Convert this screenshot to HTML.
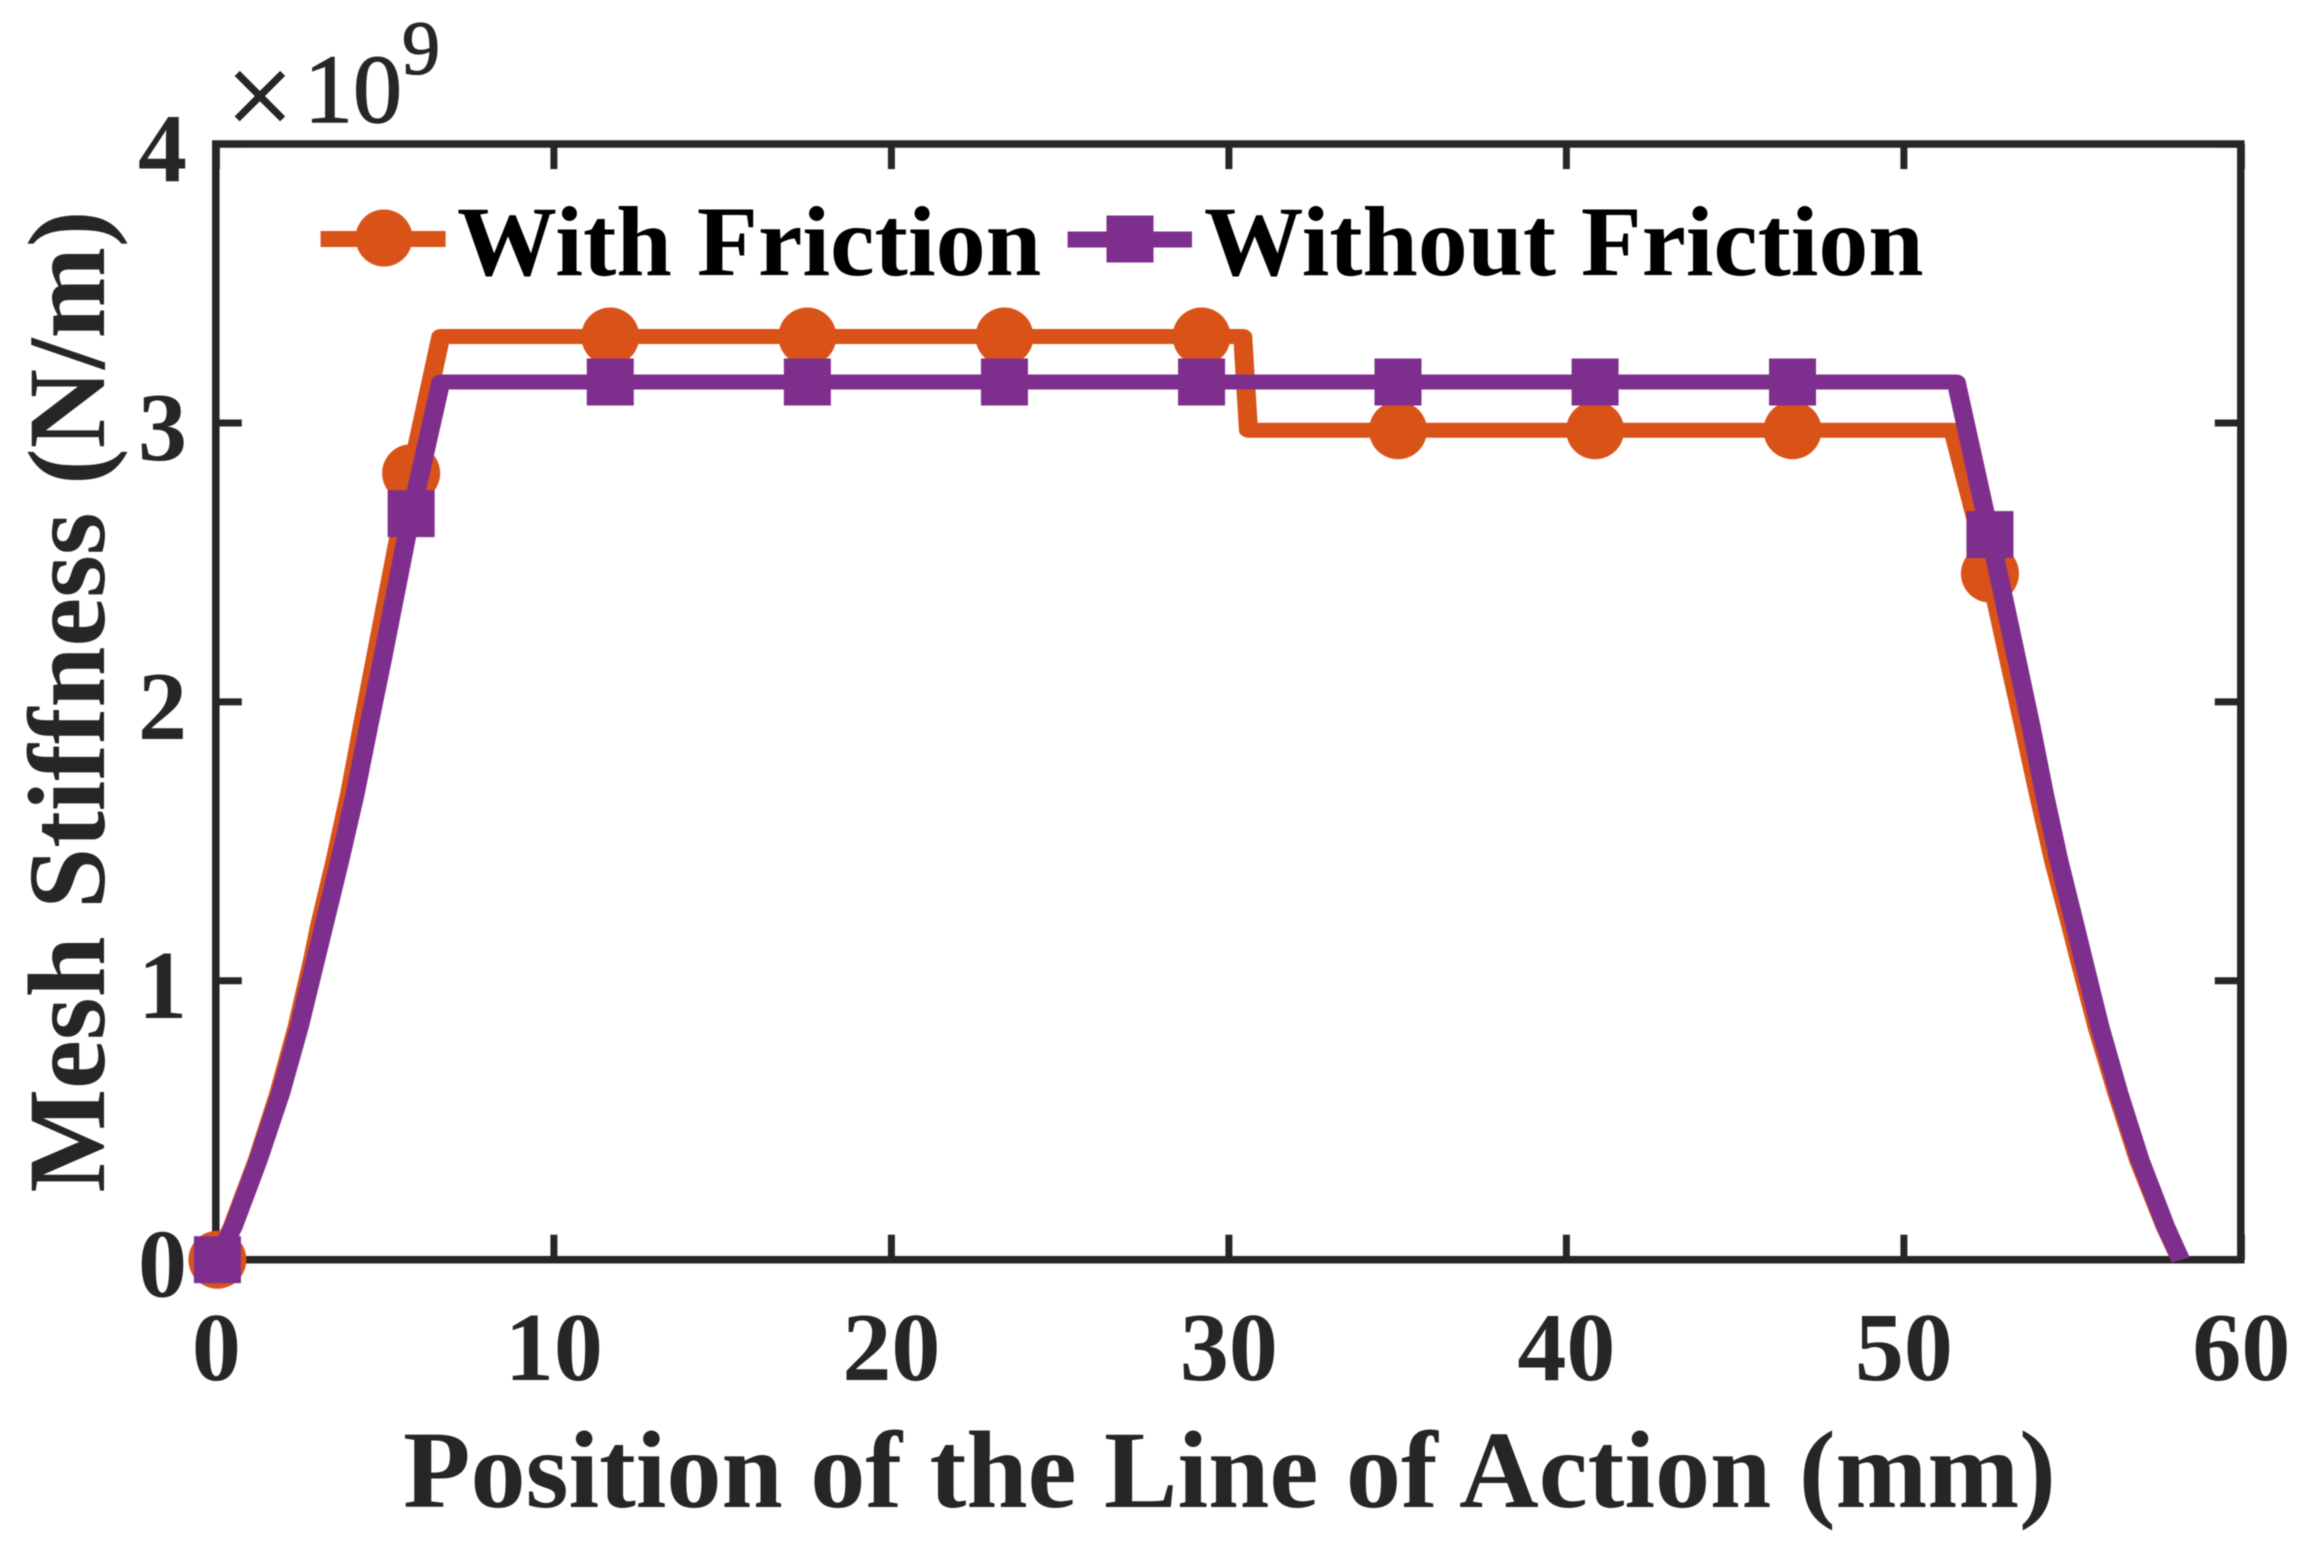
<!DOCTYPE html>
<html lang="en">
<head>
<meta charset="utf-8">
<title>Mesh Stiffness Chart</title>
<style>
html,body{margin:0;padding:0;background:#fff;}
body{width:2306px;height:1546px;overflow:hidden;}
svg{display:block;filter:blur(0.6px);}
text{font-family:"Liberation Serif","Times New Roman",serif;}
</style>
</head>
<body>
<svg id="chart" xmlns="http://www.w3.org/2000/svg" width="2306" height="1546" viewBox="0 0 2306 1546">
  <rect x="0" y="0" width="2306" height="1546" fill="#ffffff"/>
  <g id="ticks"></g>
  <rect x="215.8" y="144" width="2025" height="1115.7" fill="none" stroke="#262626" stroke-width="7.5"/>
  <g id="tick-labels" font-weight="700" font-size="98" fill="#262626"></g>
  <g id="series"></g>
  <text fill="#262626" stroke="#262626" stroke-width="1.2" font-size="120" x="226" y="136">×</text>
  <text fill="#262626" stroke="#262626" stroke-width="1.4" font-size="98" x="304" y="122">10</text>
  <text fill="#262626" stroke="#262626" stroke-width="1.2" font-size="76" x="402" y="74">9</text>
  <text fill="#262626" font-size="110.2" font-weight="700" x="1229.5" y="1507" text-anchor="middle">Position of the Line of Action (mm)</text>
  <text fill="#262626" font-size="109.8" font-weight="700" text-anchor="middle" transform="translate(104 701.5) rotate(-90)">Mesh Stiffness (N/m)</text>
  <g>
    <g>
      <line x1="320.6" x2="445.6" y1="239" y2="239" stroke="#D95319" stroke-width="16"/>
      <circle cx="384" cy="238" r="28.5" fill="#D95319"/>
      <text fill="#000000" font-size="100" font-weight="700" x="457" y="275">With Friction</text>
    </g>
    <g>
      <line x1="1067.6" x2="1192" y1="239.5" y2="239.5" stroke="#7E2F8E" stroke-width="16"/>
      <rect x="1106.5" y="215.5" width="47" height="47" fill="#7E2F8E"/>
      <text fill="#000000" font-size="99.5" font-weight="700" x="1204" y="275">Without Friction</text>
    </g>
  </g>
</svg>
<script>
const xTickValues = [0, 10, 20, 30, 40, 50, 60];
const yTickValues = [0, 1, 2, 3, 4];

const frictionX = [0, 0.47, 1.21, 1.85, 2.39, 2.85, 3.05, 3.52, 3.95, 4.32, 4.7, 5.77, 6.65, 30.41, 30.58, 51.45, 52.55, 53.11, 53.55, 53.98, 54.43, 54.95, 55.2, 55.72, 56.31, 56.95, 57.74, 58.2];
const frictionY = [0, 0.118, 0.357, 0.597, 0.835, 1.075, 1.194, 1.433, 1.672, 1.911, 2.15, 2.82, 3.31, 3.31, 2.974, 2.974, 2.46, 2.15, 1.911, 1.672, 1.433, 1.194, 1.075, 0.835, 0.597, 0.357, 0.118, 0];

const noFrictionX = [0, 0.5, 1.24, 1.905, 2.456, 2.94, 3.18, 3.66, 4.115, 4.51, 4.915, 5.77, 6.65, 51.55, 52.55, 53.35, 53.77, 54.16, 54.59, 55.08, 55.32, 55.81, 56.37, 57.0, 57.76, 58.2];
const noFrictionY = [0, 0.118, 0.357, 0.597, 0.835, 1.075, 1.194, 1.433, 1.672, 1.911, 2.15, 2.675, 3.147, 3.147, 2.6, 2.15, 1.911, 1.672, 1.433, 1.194, 1.075, 0.835, 0.597, 0.357, 0.118, 0];

const markerX = [0.03, 5.77, 11.67, 17.51, 23.35, 29.19, 35.01, 40.85, 46.7, 52.55];
const frictionMarkerY = [0, 2.82, 3.31, 3.31, 3.31, 3.31, 2.974, 2.974, 2.974, 2.46];
const noFrictionMarkerY = [0, 2.675, 3.147, 3.147, 3.147, 3.147, 3.147, 3.147, 3.147, 2.6];

const SVG_NS = 'http://www.w3.org/2000/svg';
const ORANGE = '#D95319';
const PURPLE = '#7E2F8E';
const INK = '#262626';
const PEN_STRETCH = 1.27;

function xScale(v) { return 216.4 + v * 33.75; }
function yScale(v) { return 1259.7 - v * 278.9; }

const ticksLayer = document.getElementById('ticks');
const labelsLayer = document.getElementById('tick-labels');
const seriesLayer = document.getElementById('series');

function makeTick(x1, y1, x2, y2) {
  const el = document.createElementNS(SVG_NS, 'line');
  el.setAttribute('x1', x1);
  el.setAttribute('y1', y1);
  el.setAttribute('x2', x2);
  el.setAttribute('y2', y2);
  el.setAttribute('stroke', INK);
  el.setAttribute('stroke-width', 7);
  
  
  ticksLayer.appendChild(el);
}

xTickValues.forEach(function (v) {
  const x = xScale(v);
  makeTick(x, yScale(0), x, yScale(0) - 25);
  makeTick(x, yScale(4), x, yScale(4) + 25);
  const label = document.createElementNS(SVG_NS, 'text');
  label.setAttribute('x', x);
  label.setAttribute('y', 1380);
  label.setAttribute('text-anchor', 'middle');
  
  
  label.textContent = String(v);
  labelsLayer.appendChild(label);
});

yTickValues.forEach(function (v) {
  const y = yScale(v);
  makeTick(215.8, y, 215.8 + 26, y);
  makeTick(2240.8, y, 2240.8 - 26, y);
  const label = document.createElementNS(SVG_NS, 'text');
  label.setAttribute('x', 187);
  label.setAttribute('y', y + 37);
  label.setAttribute('text-anchor', 'end');
  
  
  label.textContent = String(v);
  labelsLayer.appendChild(label);
});

function drawLine(xs, ys, color, name) {
  const el = document.createElementNS(SVG_NS, 'path');
  const d = xs.map(function (v, i) {
    return (i ? 'L' : 'M') + (xScale(v) / PEN_STRETCH).toFixed(2) + ' ' + yScale(ys[i]).toFixed(2);
  }).join(' ');
  el.setAttribute('d', d);
  el.setAttribute('transform', 'scale(' + PEN_STRETCH + ' 1)');
  el.setAttribute('fill', 'none');
  el.setAttribute('stroke', color);
  el.setAttribute('stroke-width', 15);
  el.setAttribute('stroke-linejoin', 'round');
  
  
  seriesLayer.appendChild(el);
}

drawLine(frictionX, frictionY, ORANGE, 'line-with-friction');

markerX.forEach(function (v, i) {
  const el = document.createElementNS(SVG_NS, 'circle');
  el.setAttribute('cx', xScale(v));
  el.setAttribute('cy', yScale(frictionMarkerY[i]));
  el.setAttribute('r', 29);
  el.setAttribute('fill', ORANGE);
  
  
  seriesLayer.appendChild(el);
});

drawLine(noFrictionX, noFrictionY, PURPLE, 'line-without-friction');

markerX.forEach(function (v, i) {
  const el = document.createElementNS(SVG_NS, 'rect');
  el.setAttribute('x', xScale(v) - 23.5);
  el.setAttribute('y', yScale(noFrictionMarkerY[i]) - 23.5);
  el.setAttribute('width', 47);
  el.setAttribute('height', 47);
  el.setAttribute('fill', PURPLE);
  
  
  seriesLayer.appendChild(el);
});
</script>
</body>
</html>
